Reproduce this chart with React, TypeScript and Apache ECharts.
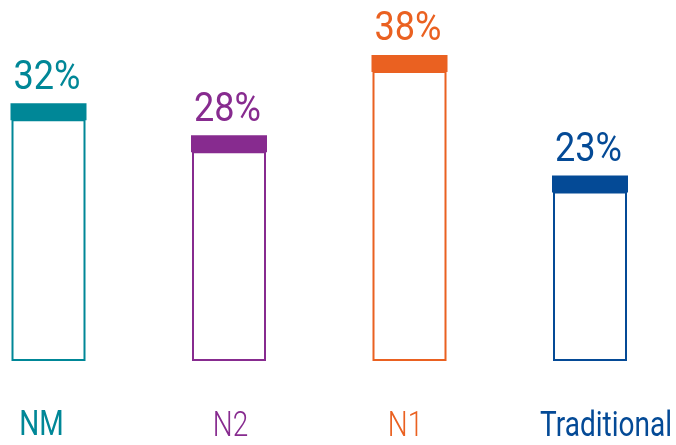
import { useEffect, useRef } from "react";
import * as echarts from "echarts";

const categories = ["NM", "N2", "N1", "Traditional"];
const shares = [32, 28, 38, 23];
const colors = ["#008797", "#872b8f", "#ea6121", "#044a96"];
// label placement styles (not data)
const categoryLabelDx = [-7, 1.5, -4, 16];
const categoryLabelDy = [63, 64, 64, 64];
const categoryLabelWeight = [400, 300, 300, 400];

export default function App() {
  const ref = useRef<HTMLDivElement>(null);
  useEffect(() => {
    const chart = echarts.init(ref.current!, null, { renderer: "svg" });
    chart.setOption({
      animation: false,
      grid: { left: 48.5, right: 86, top: 39, bottom: 85 },
      xAxis: { type: "category", data: categories, boundaryGap: false, show: false },
      yAxis: { type: "value", min: 0, max: 40, show: false },
      series: [
        {
          type: "custom",
          clip: false,
          data: shares.map((v, i) => [i, v]),
          encode: { x: 0, y: 1 },
          renderItem: (params: any, api: any) => {
            const i = api.value(0) as number;
            const v = api.value(1) as number;
            const top = api.coord([i, v]);
            const base = api.coord([i, 0]);
            const cx = top[0];
            const color = colors[i];
            const capH = 17;
            return {
              type: "group",
              children: [
                {
                  type: "rect",
                  shape: { x: cx - 36, y: top[1] + capH, width: 72, height: base[1] - top[1] - capH },
                  style: { fill: "#ffffff", stroke: color, lineWidth: 2 },
                },
                {
                  type: "rect",
                  shape: { x: cx - 38, y: top[1], width: 76, height: capH },
                  style: { fill: color },
                },
                {
                  type: "text",
                  x: cx - 1.5,
                  y: top[1] - 29,
                  scaleX: 0.88,
                  style: {
                    text: `${shares[i]}%`,
                    fill: color,
                    fontFamily: "Roboto",
                    fontSize: 41,
                    align: "center",
                    verticalAlign: "middle",
                  },
                },
                {
                  type: "text",
                  x: cx + categoryLabelDx[i],
                  y: base[1] + categoryLabelDy[i],
                  scaleX: 0.8,
                  style: {
                    text: categories[i],
                    fill: color,
                    fontFamily: "Roboto",
                    fontWeight: categoryLabelWeight[i],
                    fontSize: 35,
                    align: "center",
                    verticalAlign: "middle",
                  },
                },
              ],
            };
          },
        },
      ],
    });
    return () => chart.dispose();
  }, []);
  return (
    <div
      ref={ref}
      style={{ position: "fixed", left: 0, top: 0, width: 676, height: 445 }}
    />
  );
}
